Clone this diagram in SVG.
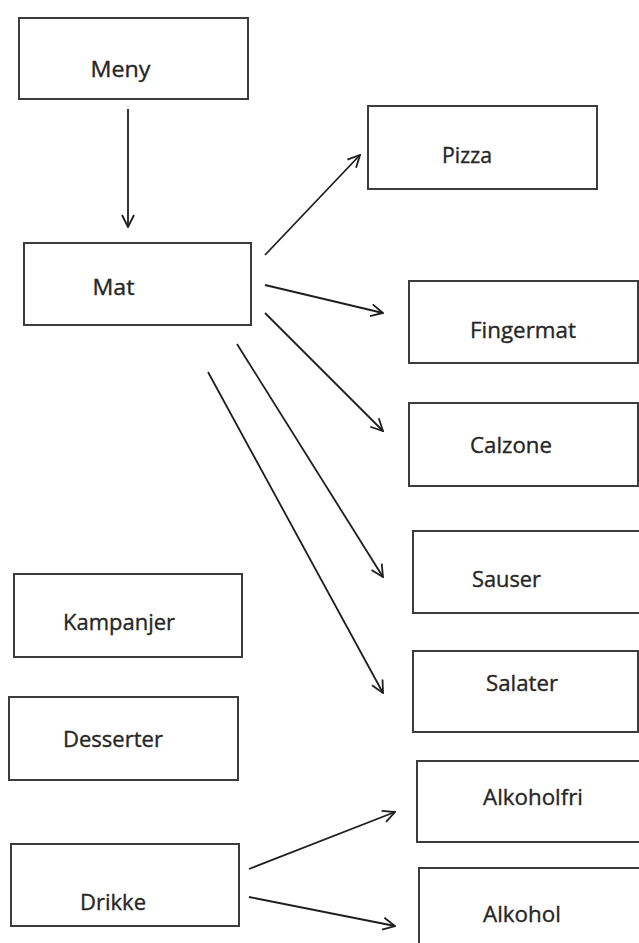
<svg xmlns="http://www.w3.org/2000/svg" width="639" height="943" viewBox="0 0 639 943">
<style>
.box{fill:#fff;stroke:#3c3c3c;stroke-width:2}
.lbl{font-family:"Open Sans","Liberation Sans",sans-serif;font-size:22px;fill:#262626;stroke:#262626;stroke-width:0.35;text-anchor:middle}
.conn line{stroke:#1e1e1e;stroke-width:1.8;fill:none;marker-end:url(#arr)}
</style>
<defs>
<marker id="arr" viewBox="0 0 14 14" refX="13" refY="7" markerWidth="14" markerHeight="14" markerUnits="userSpaceOnUse" orient="auto">
<path d="M1,1 L13,7 L1,13" fill="none" stroke="#1e1e1e" stroke-width="1.8"/>
</marker>
</defs>
<rect width="639" height="943" fill="#fff"/>
<g id="meny"><rect class="box" x="19" y="18" width="229" height="81"/><text class="lbl" x="120.5" y="77" textLength="60" lengthAdjust="spacingAndGlyphs">Meny</text></g>
<g id="mat"><rect class="box" x="24" y="243" width="227" height="82"/><text class="lbl" x="113.5" y="295" textLength="42" lengthAdjust="spacingAndGlyphs">Mat</text></g>
<g id="pizza"><rect class="box" x="368" y="106" width="229" height="83"/><text class="lbl" x="467" y="163" textLength="50" lengthAdjust="spacingAndGlyphs">Pizza</text></g>
<g id="fingermat"><rect class="box" x="409" y="281" width="229" height="82"/><text class="lbl" x="523" y="338" textLength="106" lengthAdjust="spacingAndGlyphs">Fingermat</text></g>
<g id="calzone"><rect class="box" x="409" y="403" width="229" height="83"/><text class="lbl" x="511" y="453" textLength="82" lengthAdjust="spacingAndGlyphs">Calzone</text></g>
<g id="sauser"><rect class="box" x="413" y="531" width="240" height="82"/><text class="lbl" x="506.5" y="587" textLength="69" lengthAdjust="spacingAndGlyphs">Sauser</text></g>
<g id="salater"><rect class="box" x="413" y="651" width="225" height="81"/><text class="lbl" x="522" y="691" textLength="72" lengthAdjust="spacingAndGlyphs">Salater</text></g>
<g id="alkoholfri"><rect class="box" x="417" y="761" width="240" height="81"/><text class="lbl" x="533" y="805" textLength="100" lengthAdjust="spacingAndGlyphs">Alkoholfri</text></g>
<g id="alkohol"><rect class="box" x="419" y="868" width="240" height="90"/><text class="lbl" x="522" y="922" textLength="78" lengthAdjust="spacingAndGlyphs">Alkohol</text></g>
<g id="kampanjer"><rect class="box" x="14" y="574" width="228" height="83"/><text class="lbl" x="119" y="630" textLength="112" lengthAdjust="spacingAndGlyphs">Kampanjer</text></g>
<g id="desserter"><rect class="box" x="9" y="697" width="229" height="83"/><text class="lbl" x="113" y="747" textLength="100" lengthAdjust="spacingAndGlyphs">Desserter</text></g>
<g id="drikke"><rect class="box" x="11" y="844" width="228" height="82"/><text class="lbl" x="113" y="910" textLength="66" lengthAdjust="spacingAndGlyphs">Drikke</text></g>
<g id="connectors" class="conn">
<line x1="128" y1="109" x2="128" y2="227"/>
<line x1="265" y1="255" x2="360" y2="155"/>
<line x1="265" y1="285" x2="383" y2="313"/>
<line x1="265" y1="313" x2="383" y2="431"/>
<line x1="237" y1="344" x2="383" y2="577"/>
<line x1="208" y1="372" x2="383" y2="693"/>
<line x1="249" y1="869" x2="395" y2="812"/>
<line x1="249" y1="897" x2="395" y2="926"/>
</g>
</svg>
